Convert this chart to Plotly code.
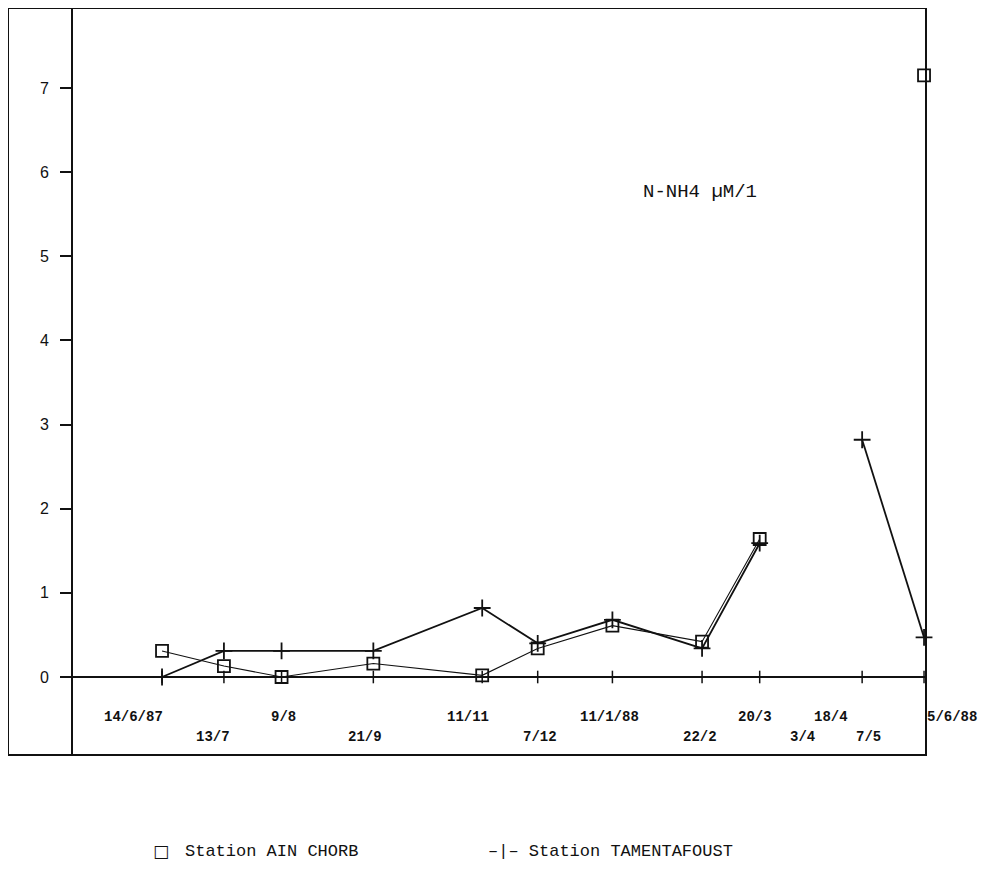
import plotly.graph_objects as go

# ---- data ----
dates = ["1987-06-14", "1987-07-13", "1987-08-09", "1987-09-21", "1987-11-11",
         "1987-12-07", "1988-01-11", "1988-02-22", "1988-03-20", "1988-04-03",
         "1988-04-18", "1988-05-07", "1988-06-05"]
date_labels = ["14/6/87", "13/7", "9/8", "21/9", "11/11", "7/12", "11/1/88",
               "22/2", "20/3", "3/4", "18/4", "7/5", "5/6/88"]
label_row = [1, 2, 1, 2, 1, 2, 1, 2, 1, 2, 1, 2, 1]
label_shift = [-29, -11, 2, -8, -14, 2, -3, -2, -5, 13, 9, 6, 28]

ain_chorb = [0.31, 0.13, 0.0, 0.16, 0.02, 0.34, 0.61, 0.42, 1.64, None, None, None, 7.15]
tamentafoust = [0.0, 0.31, 0.31, 0.31, 0.82, 0.40, 0.68, 0.34, 1.59, None, None, 2.82, 0.47]

y_ticks = [0, 1, 2, 3, 4, 5, 6, 7]

# ---- layout geometry (page pixels; the figure sits 8px inside the page) ----
OFF = 8
W, H = 986, 874
L, R, T, B = 65, 68, 0, 127
PW, PH = W - L - R, H - T - B


def px(x):
    return (x - OFF - L) / PW


def py(y):
    return (H - B - (y - OFF)) / PH


mono = "Liberation Mono, Courier New, monospace"
ink = "#111111"

fig = go.Figure()

tick_dates = [d for d, a, t in zip(dates, ain_chorb, tamentafoust)
              if a is not None or t is not None]
fig.add_trace(go.Scatter(
    x=tick_dates, y=[0] * len(tick_dates), mode="markers",
    marker=dict(symbol="line-ns", size=9, line=dict(width=1.5, color=ink)),
    hoverinfo="skip", showlegend=False, cliponaxis=False))

fig.add_trace(go.Scatter(
    x=dates, y=ain_chorb, mode="lines+markers", name="Station AIN CHORB",
    line=dict(color=ink, width=1.1), connectgaps=False,
    marker=dict(symbol="square-open", size=12, line=dict(width=1.8, color=ink)),
    showlegend=False, cliponaxis=False))

fig.add_trace(go.Scatter(
    x=dates, y=tamentafoust, mode="lines+markers", name="Station TAMENTAFOUST",
    line=dict(color=ink, width=1.8), connectgaps=False,
    marker=dict(symbol="cross-thin", size=12, line=dict(width=1.8, color=ink)),
    showlegend=False, cliponaxis=False))

annotations = []
row_y = {1: py(717), 2: py(737)}
for d, lab, row, sh in zip(dates, date_labels, label_row, label_shift):
    annotations.append(dict(
        x=d, xref="x", y=row_y[row], yref="paper", text=f"<b>{lab}</b>",
        showarrow=False, xshift=sh, xanchor="center", yanchor="middle",
        font=dict(family=mono, size=14, color=ink)))

annotations.append(dict(
    x=px(700), y=py(192), xref="paper", yref="paper", text="N-NH4 µM/1",
    showarrow=False, xanchor="center", yanchor="middle",
    font=dict(family=mono, size=19, color=ink)))

annotations.append(dict(
    x=px(161), y=py(851), xref="paper", yref="paper", text="□",
    showarrow=False, xanchor="center", yanchor="middle",
    font=dict(family="DejaVu Sans", size=17, color=ink)))
annotations.append(dict(
    x=px(183), y=py(851), xref="paper", yref="paper", text="Station AIN CHORB",
    showarrow=False, xanchor="left", yanchor="middle",
    font=dict(family=mono, size=17, color=ink)))
annotations.append(dict(
    x=px(486), y=py(851), xref="paper", yref="paper", text="–|– Station TAMENTAFOUST",
    showarrow=False, xanchor="left", yanchor="middle",
    font=dict(family=mono, size=17, color=ink)))

fig.update_layout(
    width=W, height=H,
    margin=dict(l=L, r=R, t=T, b=B, pad=0),
    paper_bgcolor="white", plot_bgcolor="white",
    showlegend=False,
    annotations=annotations,
    shapes=[dict(type="rect", xref="paper", yref="paper",
                 x0=px(8), x1=1, y0=0, y1=1,
                 line=dict(color=ink, width=2), layer="above")],
    xaxis=dict(type="date", range=["1987-05-03 07:00", "1988-06-05 22:00"],
               showgrid=False, zeroline=False, showticklabels=False,
               ticks="", showline=False, fixedrange=True),
    yaxis=dict(range=[-0.927, 7.951], tickvals=y_ticks,
               ticktext=[str(v) for v in y_ticks],
               showgrid=False, zeroline=True, zerolinecolor=ink, zerolinewidth=1.5,
               ticks="outside", ticklen=11, tickwidth=1.5, tickcolor=ink,
               ticklabelstandoff=8,
               showline=True, linecolor=ink, linewidth=2,
               tickfont=dict(family="Liberation Sans, Arial, sans-serif", size=16, color=ink),
               fixedrange=True),
)

fig.write_html("out.html")
